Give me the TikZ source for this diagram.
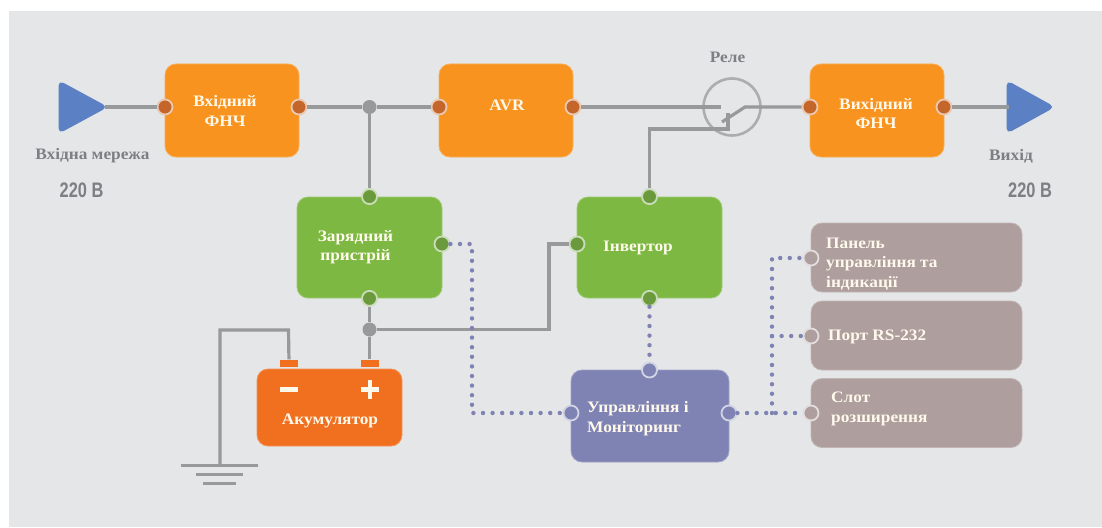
\documentclass[tikz,border=0pt]{standalone}
\usepackage{fontspec}
\setmainfont[FakeStretch=1.08]{Liberation Serif}
\newfontfamily\numfont{Liberation Sans}
\definecolor{bgc}{HTML}{E4E6E8}
\definecolor{linec}{HTML}{98999B}
\definecolor{orangec}{HTML}{F7931E}
\definecolor{greenc}{HTML}{7DB843}
\definecolor{battc}{HTML}{F0701F}
\definecolor{purplec}{HTML}{7F83B3}
\definecolor{brownc}{HTML}{AE9E9D}
\definecolor{bluec}{HTML}{5B80C4}
\definecolor{txtc}{HTML}{FFF9EC}
\definecolor{greytxt}{HTML}{7E7F82}
\definecolor{portor}{HTML}{C4652A}
\definecolor{portgr}{HTML}{6A9A3C}
\tikzset{
  blockbox/.style={draw=#1!75!white,line width=.8pt,fill=#1,rounded corners=11pt,inner sep=0pt},
  wire/.style={draw=linec,line width=3.2pt},
  thinwire/.style={draw=linec,line width=2.6pt},
  dotwire/.style={draw=purplec,line width=4.4pt,line cap=round,dash pattern=on 0pt off 9.6pt},
  portdot/.style={circle,draw=#1!35!white,line width=1.8pt,fill=#1,minimum size=15pt,inner sep=0pt},
  joint/.style={circle,fill=linec,minimum size=14pt,inner sep=0pt},
  boxlabel/.style={font=\bfseries\fontsize{16}{19.5}\selectfont,text=txtc,align=center,inner sep=0pt},
  leftlabel/.style={font=\bfseries\fontsize{16}{19.5}\selectfont,text=txtc,align=left,anchor=west,inner sep=0pt},
  greylabel/.style={font=\bfseries\fontsize{16}{18}\selectfont,text=greytxt,inner sep=0pt},
  voltlabel/.style={text=greytxt,inner sep=0pt},
  arrowtri/.style={fill=bluec,draw=bluec,line width=1pt,rounded corners=5pt},
}
\newcommand{\volt}{\scalebox{.78}[1]{\numfont\bfseries\fontsize{21}{21}\selectfont 220 В}}
\begin{document}
\begin{tikzpicture}[x=1pt,y=-1pt]
\useasboundingbox (0,0) rectangle (1102,527);
\fill[white] (0,0) rectangle (1102,527);
\fill[bgc] (9,11) rectangle (1102,527);

% blocks
\node[blockbox=orangec,minimum width=134pt,minimum height=93pt] (lpfin) at (232,110.5) {};
\node[blockbox=orangec,minimum width=134pt,minimum height=93pt] (avr) at (506,110.5) {};
\node[blockbox=orangec,minimum width=134pt,minimum height=93pt] (lpfout) at (877,110.5) {};
\node[blockbox=greenc,minimum width=145pt,minimum height=101pt] (charger) at (369.5,247.5) {};
\node[blockbox=greenc,minimum width=145pt,minimum height=101pt] (inverter) at (649.5,247.5) {};
\node[blockbox=battc,minimum width=145pt,minimum height=77pt] (batt) at (329.5,407.5) {};
\node[blockbox=purplec,minimum width=158pt,minimum height=92pt] (ctrl) at (650,416) {};
\node[blockbox=brownc,minimum width=211pt,minimum height=69pt] (panel) at (916.5,257.5) {};
\node[blockbox=brownc,minimum width=211pt,minimum height=69pt] (rs) at (916.5,335.5) {};
\node[blockbox=brownc,minimum width=211pt,minimum height=69pt] (slot) at (916.5,413) {};

% battery terminals and signs
\node[fill=battc,minimum width=18pt,minimum height=7pt,inner sep=0pt] (tminus) at (289,363) {};
\node[fill=battc,minimum width=18pt,minimum height=7pt,inner sep=0pt] (tplus) at (369.5,363) {};
\fill[txtc] (280,387) rectangle (298,391.5);
\fill[txtc] (361,387) rectangle (379,391.5);
\fill[txtc] (367.7,380) rectangle (372.3,398.5);

% triangles
\fill[arrowtri] (59,81) -- (107,107) -- (59,133) -- cycle;
\fill[arrowtri] (1007,81) -- (1054,107) -- (1007,133) -- cycle;
\coordinate (intip) at (105,107);
\coordinate (outbase) at (1009,107);

% ports
\node[portdot=portor] (p1) at (165,107) {};
\node[portdot=portor] (p2) at (299,107) {};
\node[portdot=portor] (p3) at (439,107) {};
\node[portdot=portor] (p4) at (573,107) {};
\node[portdot=portor] (p5) at (810,107) {};
\node[portdot=portor] (p6) at (944,107) {};
\node[portdot=portgr] (chtop) at (charger.north) {};
\node[portdot=portgr] (chbot) at (charger.south) {};
\node[portdot=portgr] (chright) at (442,244) {};
\node[portdot=portgr] (invtop) at (inverter.north) {};
\node[portdot=portgr] (invbot) at (inverter.south) {};
\node[portdot=portgr] (invleft) at (577,244) {};
\node[portdot=purplec] (ctop) at (649.5,370) {};
\node[portdot=purplec] (cleft) at (571,413) {};
\node[portdot=purplec] (cright) at (729,413) {};
\node[portdot=brownc] (ppanel) at (811,258) {};
\node[portdot=brownc] (prs) at (811,336) {};
\node[portdot=brownc] (pslot) at (811,413) {};

% junctions
\node[joint] (j1) at (369.5,107) {};
\node[joint] (j2) at (369.5,329.5) {};

% relay
\node[circle,draw=linec!80!white,line width=2.6pt,fill=bgc,minimum size=57pt,inner sep=0pt] (relay) at (732,107) {};
\coordinate (cin) at (721,107);
\coordinate (cpiv) at (745,107);
\coordinate (carm) at (722,122);
\coordinate (ctop2) at (728,113);
\coordinate (ccor) at (728,129);
\coordinate (crise) at (649.5,129);

% solid connectors
\draw[wire] (intip) -- (p1);
\draw[wire] (p2) -- (j1);
\draw[wire] (j1) -- (p3);
\draw[wire] (j1) -- (chtop);
\draw[wire] (p4) -- (cin);
\draw[wire] (p5) -- (cpiv) -- (carm);
\draw[wire] (ctop2) -- (ccor) -- (crise) -- (invtop);
\draw[wire] (p6) -- (outbase);
\draw[wire] (chbot) -- (j2);
\draw[wire] (j2) -- (tplus);
\coordinate (b1) at (549,329.5);
\draw[wire] (j2) -- (b1) |- (invleft);
\coordinate (g1) at (288.5,330);
\coordinate (g2) at (220,330);
\coordinate (g3) at (220,465);
\draw[wire] (tminus) -- (g1) -- (g2) -- (g3);

% ground
\coordinate (g1a) at (181,465.5);
\coordinate (g1b) at (258,465.5);
\coordinate (g2a) at (196,474.5);
\coordinate (g2b) at (243,474.5);
\coordinate (g3a) at (203,483.5);
\coordinate (g3b) at (236,483.5);
\draw[thinwire] (g1a) -- (g1b);
\draw[thinwire] (g2a) -- (g2b);
\draw[thinwire] (g3a) -- (g3b);

% dotted connectors
\coordinate (d1) at (472,244);
\coordinate (d2) at (472,413);
\draw[dotwire] (chright) -- (d1) -- (d2) -- (cleft);
\draw[dotwire] (invbot) -- (ctop);
\draw[dotwire] (cright) -- (pslot);
\coordinate (d3) at (772,413);
\coordinate (d4) at (772,258);
\coordinate (d5) at (772,336);
\draw[dotwire] (d3) -- (d4) -- (ppanel);
\draw[dotwire] (d5) -- (prs);

% labels
\node[boxlabel] (t1) at (225,111) {Вхідний\\ФНЧ};
\node[boxlabel] (t2) at (507,105.5) {AVR};
\node[boxlabel] (t3) at (876,113.5) {Вихідний\\ФНЧ};
\node[boxlabel] (t4) at (355.5,247) {Зарядний\\пристрій};
\node[boxlabel] (t5) at (638,247.5) {Інвертор};
\node[boxlabel] (t6) at (330,420.5) {Акумулятор};
\node[leftlabel] (t7) at (587,418.5) {Управління і\\Моніторинг};
\node[leftlabel] (t8) at (826,264) {Панель\\управління та\\індикації};
\node[leftlabel] (t9) at (828,336.5) {Порт RS-232};
\node[leftlabel] (t10) at (831,409) {Слот\\розширення};
\node[greylabel] (t11) at (92.5,155.5) {Вхідна мережа};
\node[greylabel] (t12) at (1011,156.5) {Вихід};
\node[greylabel] (t13) at (727.5,57) {Реле};
\node[voltlabel] (t14) at (81.5,190.5) {\volt};
\node[voltlabel] (t15) at (1030,190.5) {\volt};
\end{tikzpicture}
\end{document}
